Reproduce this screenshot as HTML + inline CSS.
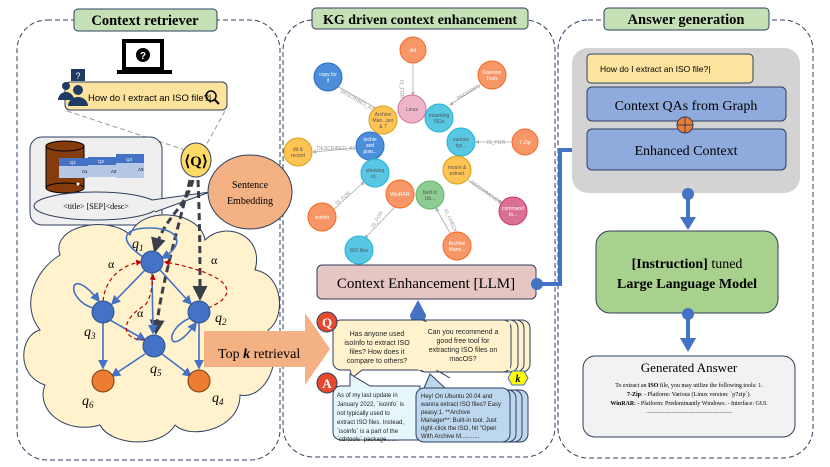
<!DOCTYPE html>
<html><head><meta charset="utf-8"><style>
html,body{margin:0;padding:0;background:#fff}
svg{display:block}
.s{font-family:"Liberation Serif",serif}
.a{font-family:"Liberation Sans",sans-serif}
</style></head><body>
<svg width="830" height="467" viewBox="0 0 830 467" xmlns="http://www.w3.org/2000/svg">
<defs>
<marker id="ab" markerWidth="6" markerHeight="6" refX="5" refY="3" orient="auto"><path d="M0,0L6,3L0,6z" fill="#4472c4"/></marker>
<marker id="ad" markerWidth="5" markerHeight="5" refX="4" refY="2.5" orient="auto"><path d="M0,0L5,2.5L0,5z" fill="#3a3f4a"/></marker>
<marker id="ar" markerWidth="5" markerHeight="5" refX="4" refY="2.5" orient="auto"><path d="M0,0L5,2.5L0,5z" fill="#c00000"/></marker>
<marker id="ag" markerWidth="5" markerHeight="5" refX="4" refY="2.5" orient="auto"><path d="M0,0L5,2.5L0,5z" fill="#aaa"/></marker>
</defs>
<!-- panels -->
<rect x="17" y="20" width="263" height="440" rx="30" fill="none" stroke="#2f3f5f" stroke-dasharray="5,3"/>
<rect x="283" y="20" width="272" height="437" rx="30" fill="none" stroke="#2f3f5f" stroke-dasharray="5,3"/>
<rect x="558" y="20" width="255" height="438" rx="30" fill="none" stroke="#2f3f5f" stroke-dasharray="5,3"/>
<rect x="74" y="9" width="143" height="22" rx="4" fill="#c5e0b4" stroke="#2f3f5f"/>
<text x="145" y="25" class="s" font-size="14.5" font-weight="bold" text-anchor="middle">Context retriever</text>
<rect x="312" y="8" width="216" height="21" rx="4" fill="#c5e0b4" stroke="#2f3f5f"/>
<text x="420" y="24" class="s" font-size="14" font-weight="bold" text-anchor="middle">KG driven context enhancement</text>
<rect x="604" y="8" width="165" height="22" rx="4" fill="#c5e0b4" stroke="#2f3f5f"/>
<text x="686" y="24" class="s" font-size="14.5" font-weight="bold" text-anchor="middle">Answer generation</text>

<!-- laptop -->
<rect x="124" y="41" width="38" height="28" fill="#fff" stroke="#000" stroke-width="4"/>
<rect x="117" y="70" width="55" height="4" fill="#000"/>
<circle cx="143" cy="55" r="7" fill="#000"/><text x="143" y="59" class="a" font-size="10" fill="#fff" text-anchor="middle" font-weight="bold">?</text>
<!-- query bar -->
<rect x="65" y="82" width="162" height="28" rx="5" fill="#fde49e" stroke="#2f3f5f"/>
<text x="88" y="101" class="a" font-size="9.5">How do I extract an ISO file?|</text>
<circle cx="211" cy="96" r="5" fill="none" stroke="#000" stroke-width="1.5"/><line x1="215" y1="100" x2="219" y2="104" stroke="#000" stroke-width="2"/>
<rect x="71" y="69" width="14" height="12" fill="#1f3b63"/><text x="78" y="79" class="a" font-size="9" fill="#fff" text-anchor="middle">?</text>
<circle cx="66" cy="86" r="4" fill="#1f3b63"/><path d="M58 100a8 8 0 0 1 16 0z" fill="#1f3b63"/>
<circle cx="78" cy="90" r="5" fill="#1f3b63"/><path d="M68 106a10 9 0 0 1 20 0z" fill="#1f3b63"/>
<line x1="67" y1="111" x2="185" y2="150" stroke="#999" stroke-dasharray="5,3"/>
<line x1="225" y1="111" x2="205" y2="147" stroke="#999" stroke-dasharray="5,3"/>
<!-- DB box -->
<rect x="30" y="137" width="132" height="88" rx="12" fill="#efefef" stroke="#2f3f5f"/>
<rect x="46" y="146" width="38" height="42" fill="#843c0c" stroke="#000"/>
<ellipse cx="65" cy="146" rx="19" ry="5" fill="#843c0c" stroke="#000"/>
<ellipse cx="65" cy="188" rx="19" ry="5" fill="#843c0c" stroke="#000"/>
<circle cx="78" cy="184" r="1.5" fill="#fff"/>
<rect x="59" y="158" width="29" height="8" fill="#4472c4"/><rect x="59" y="166" width="29" height="12" fill="#b4c7e7"/>
<rect x="88" y="157" width="29" height="8" fill="#4472c4"/><rect x="88" y="165" width="29" height="12" fill="#b4c7e7"/>
<rect x="116" y="154" width="28" height="9" fill="#4472c4"/><rect x="116" y="163" width="28" height="15" fill="#b4c7e7"/>
<text x="73" y="164" class="a" font-size="4.5" fill="#fff" text-anchor="middle">Q1</text><text x="101" y="163" class="a" font-size="4.5" fill="#fff" text-anchor="middle">Q2</text><text x="129" y="161" class="a" font-size="4.5" fill="#fff" text-anchor="middle">Q3</text>
<text x="82" y="173" class="a" font-size="4.5">A1</text><text x="111" y="173" class="a" font-size="4.5">A2</text><text x="138" y="171" class="a" font-size="4.5">A3</text>
<ellipse cx="96" cy="206" rx="62" ry="14" fill="#efefef" stroke="#2f3f5f"/>
<path d="M152 200 L210 192 L155 212" fill="#efefef" stroke="#2f3f5f"/>
<text x="96" y="209" class="s" font-size="8" text-anchor="middle">&lt;title&gt; [SEP]&lt;desc&gt;</text>
<!-- Q -->
<ellipse cx="196" cy="160" rx="15" ry="17" fill="#ffd966" stroke="#2f3f5f"/>
<text x="196" y="166" class="s" font-size="15" font-weight="bold" text-anchor="middle">⟨Q⟩</text>
<ellipse cx="250" cy="192" rx="42" ry="37" fill="#f4b183" stroke="#2f3f5f"/>
<text x="250" y="188" class="s" font-size="10" text-anchor="middle">Sentence</text>
<text x="250" y="204" class="s" font-size="10" text-anchor="middle">Embedding</text>
<!-- cloud -->
<path d="M60 255 C50 225,110 215,130 235 C140 205,200 210,205 240 C225 220,265 235,255 270 C285 275,285 320,268 330 C285 360,265 400,240 395 C240 430,190 440,175 425 C160 450,110 445,100 425 C65 435,35 410,45 385 C15 375,20 335,40 330 C20 305,35 270,60 255 Z" fill="#fff2cc" stroke="#2f3f5f"/>
<!-- dashed thick arrows from Q -->
<path d="M193 180 C185 210,165 215,155 250" fill="none" stroke="#3a3f4a" stroke-width="3" stroke-dasharray="7,4" marker-end="url(#ad)"/>
<path d="M198 180 C200 230,200 260,200 298" fill="none" stroke="#3a3f4a" stroke-width="3" stroke-dasharray="7,4" marker-end="url(#ad)"/>
<path d="M190 180 C175 240,160 290,156 332" fill="none" stroke="#3a3f4a" stroke-width="3" stroke-dasharray="7,4" marker-end="url(#ad)"/>
<!-- graph edges -->
<g stroke="#4472c4" stroke-width="1.6" fill="none">
<path d="M143 257 C118 240,122 228,150 228 C180 228,186 245,162 258" marker-end="url(#ab)"/>
<line x1="145" y1="270" x2="112" y2="304" marker-end="url(#ab)"/>
<line x1="160" y1="270" x2="191" y2="304" marker-end="url(#ab)"/>
<line x1="152" y1="273" x2="153" y2="333" marker-end="url(#ab)"/>
<line x1="110" y1="320" x2="145" y2="340" marker-end="url(#ab)"/>
<line x1="103" y1="323" x2="103" y2="368" marker-end="url(#ab)"/>
<line x1="145" y1="354" x2="112" y2="376" marker-end="url(#ab)"/>
<line x1="162" y1="354" x2="191" y2="376" marker-end="url(#ab)"/>
<line x1="199" y1="323" x2="199" y2="368" marker-end="url(#ab)"/>
<path d="M93 308 C65 300,68 262,99 301" marker-end="url(#ab)"/>
<path d="M190 318 C162 330,168 362,196 323" marker-end="url(#ab)"/>
</g>
<g stroke="#c00000" stroke-width="1.2" stroke-dasharray="4,3" fill="none">
<path d="M103 301 C105 280,120 265,141 262" marker-end="url(#ar)"/>
<path d="M208 308 C240 295,235 275,165 262" marker-end="url(#ar)"/>
<path d="M145 340 C120 340,120 320,145 305 C150 300,152 290,153 275" marker-end="url(#ar)"/>
</g>
<g fill="#4472c4" stroke="#2f528f">
<circle cx="152" cy="262" r="11"/><circle cx="103" cy="312" r="11"/><circle cx="199" cy="312" r="11"/><circle cx="154" cy="346" r="11"/>
</g>
<circle cx="103" cy="381" r="11" fill="#ed7d31" stroke="#7a3a10"/><circle cx="199" cy="381" r="11" fill="#ed7d31" stroke="#7a3a10"/>
<g class="s" font-size="14" font-style="italic">
<text x="132" y="248">q<tspan font-size="9" dy="3">1</tspan></text>
<text x="84" y="336">q<tspan font-size="9" dy="3">3</tspan></text>
<text x="215" y="322">q<tspan font-size="9" dy="3">2</tspan></text>
<text x="150" y="373">q<tspan font-size="9" dy="3">5</tspan></text>
<text x="82" y="405">q<tspan font-size="9" dy="3">6</tspan></text>
<text x="212" y="402">q<tspan font-size="9" dy="3">4</tspan></text>
</g>
<g class="s" font-size="12"><text x="108" y="268">α</text><text x="211" y="264">α</text><text x="137" y="317">α</text></g>
<!-- top k arrow -->
<path d="M204 331 H305 V313 L330 349 L305 385 V367 H204 Z" fill="#f4b183"/>
<text x="218" y="358" class="s" font-size="14">Top <tspan font-weight="bold" font-style="italic">k</tspan> retrieval</text>

<!-- KG -->
<g stroke="#aaa" stroke-width="0.8" fill="none" marker-end="url(#ag)">
<line x1="413" y1="64" x2="413" y2="95"/><line x1="376" y1="108" x2="335" y2="85"/>
<line x1="480" y1="85" x2="450" y2="105"/><line x1="511" y1="142" x2="476" y2="142"/>
<line x1="356" y1="148" x2="313" y2="152"/><line x1="468" y1="180" x2="502" y2="203"/>
<line x1="333" y1="210" x2="364" y2="182"/><line x1="395" y1="207" x2="365" y2="238"/>
<line x1="450" y1="233" x2="436" y2="208"/>
</g>
<g class="a" font-size="5" fill="#999">
<text x="400" y="80" transform="rotate(90 400 80)">IS_FOR</text>
<text x="340" y="92" transform="rotate(30 340 92)">DESCRIBES_AS</text>
<text x="458" y="100" transform="rotate(-30 458 100)">PROVIDES</text>
<text x="487" y="144">IS_FOR</text>
<text x="317" y="150">DESCRIBED_AS</text>
<text x="470" y="183" transform="rotate(35 470 183)">RECOMMENDS</text>
<text x="337" y="205" transform="rotate(-40 337 205)">IS_FOR</text>
<text x="374" y="228" transform="rotate(-60 374 228)">IS_FOR</text>
<text x="444" y="210" transform="rotate(65 444 210)">IS_CHECK</text>
</g>
<g stroke-width="1" font-family="Liberation Sans,sans-serif" font-size="5" text-anchor="middle">
<circle cx="413" cy="50" r="13" fill="#f79767" stroke="#f36924"/><text x="413" y="52" fill="#fff">did</text>
<circle cx="328" cy="77" r="14" fill="#4c8eda" stroke="#2870c2"/><text x="328" y="76" fill="#fff">copy for</text><text x="328" y="82" fill="#fff">it</text>
<circle cx="492" cy="75" r="14" fill="#f79767" stroke="#f36924"/><text x="492" y="74" fill="#fff">Daemon</text><text x="492" y="80" fill="#fff">Tools</text>
<circle cx="412" cy="109" r="14" fill="#ecb5c9" stroke="#da7298"/><text x="412" y="111" fill="#555">Linux</text>
<circle cx="383" cy="120" r="14" fill="#ffc454" stroke="#d7a013"/><text x="383" y="116" fill="#555">Archive</text><text x="383" y="122" fill="#555">Man...per</text><text x="383" y="128" fill="#555">&amp; 7</text>
<circle cx="439" cy="118" r="14" fill="#57c7e3" stroke="#23b3d7"/><text x="439" y="117" fill="#555">mounting</text><text x="439" y="123" fill="#555">ISOs</text>
<circle cx="370" cy="146" r="14" fill="#4c8eda" stroke="#2870c2"/><text x="370" y="141" fill="#fff">techie</text><text x="370" y="147" fill="#fff">and</text><text x="370" y="153" fill="#fff">pow...</text>
<circle cx="298" cy="152" r="14" fill="#ffc454" stroke="#d7a013"/><text x="298" y="151" fill="#555">dd &amp;</text><text x="298" y="157" fill="#555">record</text>
<circle cx="461" cy="142" r="14" fill="#57c7e3" stroke="#23b3d7"/><text x="461" y="141" fill="#555">various</text><text x="461" y="147" fill="#555">typ...</text>
<circle cx="525" cy="142" r="13" fill="#f79767" stroke="#f36924"/><text x="525" y="144" fill="#fff">7-Zip</text>
<circle cx="457" cy="170" r="14" fill="#ffc454" stroke="#d7a013"/><text x="457" y="169" fill="#555">mount &amp;</text><text x="457" y="175" fill="#555">extract</text>
<circle cx="375" cy="173" r="14" fill="#57c7e3" stroke="#23b3d7"/><text x="375" y="172" fill="#555">showing</text><text x="375" y="178" fill="#555">of...</text>
<circle cx="400" cy="194" r="14" fill="#f79767" stroke="#f36924"/><text x="400" y="196" fill="#fff">WinRAR</text>
<circle cx="430" cy="195" r="14" fill="#8dcc93" stroke="#5db665"/><text x="430" y="194" fill="#555">built in</text><text x="430" y="200" fill="#555">Ub...</text>
<circle cx="322" cy="217" r="14" fill="#f79767" stroke="#f36924"/><text x="322" y="219" fill="#fff">isoinfo</text>
<circle cx="513" cy="211" r="14" fill="#da7194" stroke="#cc3c6c"/><text x="513" y="210" fill="#fff">command</text><text x="513" y="216" fill="#fff">to...</text>
<circle cx="457" cy="246" r="14" fill="#f79767" stroke="#f36924"/><text x="457" y="245" fill="#fff">Archive</text><text x="457" y="251" fill="#fff">Manu...</text>
<circle cx="359" cy="250" r="14" fill="#57c7e3" stroke="#23b3d7"/><text x="359" y="252" fill="#555">ISO files</text>
</g>
<!-- Context enhancement -->
<rect x="317" y="265" width="219" height="34" rx="5" fill="#e6c6c3" stroke="#2f3f5f"/>
<text x="426" y="288" class="s" font-size="15" text-anchor="middle">Context Enhancement [LLM]</text>
<path d="M537 284 H560 V150 H578" fill="none" stroke="#4472c4" stroke-width="4"/>
<path d="M576 142 L588 150 L576 158 Z" fill="#4472c4"/>
<circle cx="537" cy="284" r="6" fill="#4472c4"/>
<path d="M418 300 L410 315 A8 8 0 1 0 426 315 Z" fill="#4472c4"/>

<!-- Q/A bubbles -->
<g stroke="#2f3f5f" stroke-width="1">
<rect x="436" y="320" width="94" height="52" rx="8" fill="#fff2cc"/>
<rect x="430" y="320" width="94" height="52" rx="8" fill="#fff2cc"/>
<rect x="424" y="320" width="94" height="52" rx="8" fill="#fff2cc"/>
<rect x="417" y="320" width="94" height="52" rx="8" fill="#fff2cc"/>
<path d="M341 320 H421 a8 8 0 0 1 8 8 V362 a8 8 0 0 1 -8 8 H362 L352 378 L350 370 H341 a8 8 0 0 1 -8 -8 V328 a8 8 0 0 1 8 -8 Z" fill="#fff2cc"/>
<path d="M436 370 L450 378 L440 372" fill="#fff2cc"/>
<path d="M341 386 H350 L350 374 L370 386 H420 V440 H341 a8 8 0 0 1 -8 -8 V394 a8 8 0 0 1 8 -8 Z" fill="#e7f6fb"/>
<rect x="434" y="390" width="94" height="52" rx="8" fill="#bdd7ee"/>
<rect x="428" y="390" width="94" height="52" rx="8" fill="#bdd7ee"/>
<rect x="422" y="390" width="94" height="52" rx="8" fill="#bdd7ee"/>
<path d="M424 388 L430 374 L445 388 Z" fill="#bdd7ee"/>
<rect x="416" y="388" width="94" height="54" rx="8" fill="#bdd7ee"/>
</g>
<rect x="418" y="322" width="92" height="48" fill="#fff2cc"/>
<circle cx="327" cy="322" r="10" fill="#e64a2e" stroke="#2f3f5f"/><text x="327" y="327" class="s" font-size="13" font-weight="bold" fill="#fff" text-anchor="middle">Q</text>
<circle cx="327" cy="383" r="10" fill="#e64a2e" stroke="#2f3f5f"/><text x="327" y="388" class="s" font-size="13" font-weight="bold" fill="#fff" text-anchor="middle">A</text>
<path d="M508 378 L512 371 H524 L528 378 L524 385 H512 Z" fill="#ffff00" stroke="#4472c4"/><text x="518" y="382" class="s" font-size="10" font-style="italic" font-weight="bold" text-anchor="middle">k</text>
<g class="a" font-size="7" text-anchor="middle" fill="#222">
<text x="377" y="336">Has anyone used</text><text x="377" y="345">isoInfo to extract ISO</text><text x="377" y="354">files? How does it</text><text x="377" y="363">compare to others?</text>
<text x="463" y="334">Can you recommend a</text><text x="463" y="343">good free tool for</text><text x="463" y="352">extracting ISO files on</text><text x="463" y="361">macOS?</text>
</g>
<g class="a" font-size="6" fill="#222">
<text x="337" y="397">As of my last update in</text><text x="337" y="406">January 2022, `isoinfo` is</text><text x="337" y="415">not typically used to</text><text x="337" y="424">extract ISO files. Instead,</text><text x="337" y="433">`isoinfo` is a part of the</text><text x="337" y="441">`cdrtools` package.......</text>
<text x="421" y="398">Hey! On Ubuntu 20.04 and</text><text x="421" y="406">wanna extract ISO files? Easy</text><text x="421" y="414">peasy:1. **Archive</text><text x="421" y="422">Manager**: Built-in tool. Just</text><text x="421" y="430">right-click the ISO, hit "Open</text><text x="421" y="438">With Archive M...........</text>
</g>

<!-- right -->
<rect x="572" y="48" width="228" height="145" rx="16" fill="#d3d3d3"/>
<rect x="587" y="54" width="166" height="29" rx="4" fill="#fde49e" stroke="#2f3f5f"/>
<text x="600" y="72" class="a" font-size="8.5">How do I extract an ISO file?|</text>
<rect x="587" y="87" width="199" height="34" rx="5" fill="#8faadc" stroke="#2f3f5f"/>
<text x="686" y="110" class="s" font-size="14" text-anchor="middle">Context QAs from Graph</text>
<rect x="587" y="129" width="199" height="41" rx="5" fill="#8faadc" stroke="#2f3f5f"/>
<text x="686" y="155" class="s" font-size="14" text-anchor="middle">Enhanced Context</text>
<circle cx="685" cy="125" r="8" fill="#ed7d31" stroke="#2f3f5f"/><path d="M677 125H693M685 117V133" stroke="#2f3f5f"/>
<circle cx="688" cy="194" r="6" fill="#4472c4"/><rect x="686" y="194" width="4" height="24" fill="#4472c4"/><path d="M680 217H696L688 230Z" fill="#4472c4"/>
<rect x="596" y="231" width="182" height="82" rx="14" fill="#a9d18e" stroke="#2f3f5f"/>
<text x="687" y="268" class="s" font-size="14" text-anchor="middle"><tspan font-weight="bold">[Instruction]</tspan> tuned</text>
<text x="687" y="288" class="s" font-size="14" font-weight="bold" text-anchor="middle">Large Language Model</text>
<circle cx="688" cy="314" r="6" fill="#4472c4"/><rect x="686" y="314" width="4" height="26" fill="#4472c4"/><path d="M680 338H696L688 352Z" fill="#4472c4"/>
<rect x="583" y="356" width="212" height="81" rx="12" fill="#f2f2f2" stroke="#2f3f5f"/>
<text x="689" y="372" class="s" font-size="13" text-anchor="middle">Generated Answer</text>
<g class="s" font-size="6" text-anchor="middle">
<text x="689" y="387">To extract an <tspan font-weight="bold">ISO</tspan> file, you may utilize the following tools: 1.</text>
<text x="689" y="396"><tspan font-weight="bold">7-Zip</tspan>:   - Platform: Various (Linux version: `p7zip`).</text>
<text x="689" y="405"><tspan font-weight="bold">WinRAR</tspan>:   - Platform: Predominantly Windows.   - Interface: GUI.</text>
<text x="689" y="413">.........................................................</text>
</g>
</svg>
</body></html>
